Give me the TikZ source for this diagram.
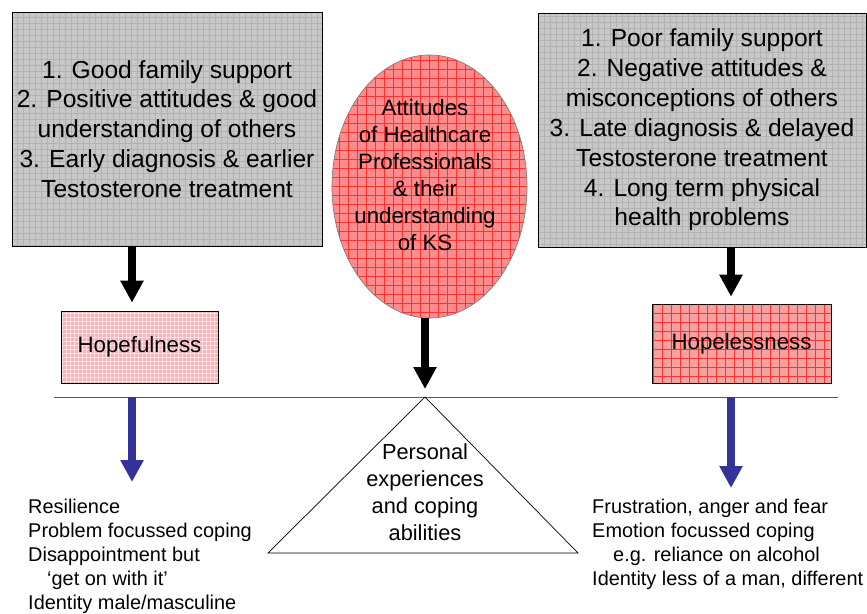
\documentclass[tikz,border=0pt]{standalone}
\usepackage{fontspec}
\setmainfont{Liberation Sans}
\usetikzlibrary{arrows.meta,shapes.geometric}
\definecolor{boxgray}{RGB}{200,200,200}
\definecolor{gridgray}{RGB}{178,178,178}
\definecolor{ovalred}{RGB}{255,140,140}
\definecolor{gridred}{RGB}{255,50,50}
\definecolor{hopepink}{RGB}{246,180,180}
\definecolor{lesspink}{RGB}{246,160,160}
\definecolor{arrowblue}{RGB}{51,51,153}
\def\gridfill#1#2{\draw[#1, line width=0.2pt, step=#2] (path picture bounding box.south west) grid (path picture bounding box.north east);}
\tikzset{
	graybox/.style={draw=black, line width=0.8pt, fill=boxgray, minimum height=7.02cm, align=center, font=\fontsize{21}{25.5}\selectfont, path picture={\gridfill{gridgray}{0.18cm}}},
	pinkbox/.style={draw=black, line width=0.6pt, align=center, font=\fontsize{19}{23}\selectfont},
	blkarrow/.style={-{Triangle[width=0.66cm,length=0.66cm]}, line width=0.24cm, black},
	bluearrow/.style={-{Triangle[width=0.66cm,length=0.66cm]}, line width=0.24cm, arrowblue},
	listtext/.style={anchor=north west, inner sep=0pt, align=left, font=\fontsize{17}{20.4}\selectfont}
}

\begin{document}
\begin{tikzpicture}[x=0.03cm, y=-0.03cm]
		%%%%% START %%%%%
		\useasboundingbox (0,0) rectangle (867,613);
		
		\node[graybox, minimum width=9.3cm] (lbox) at (167,129) {1. Good family support\\2. Positive attitudes \& good\\understanding of others\\3. Early diagnosis \& earlier\\Testosterone treatment};
		\node[graybox, minimum width=9.84cm] (rbox) at (702,130) {1. Poor family support\\2. Negative attitudes \&\\misconceptions of others\\3. Late diagnosis \& delayed\\Testosterone treatment\\4. Long term physical\\health problems};
		
		\node[ellipse, draw=gray, line width=0.6pt, fill=ovalred, inner sep=0pt, minimum width=5.85cm, minimum height=7.89cm, path picture={\gridfill{gridred}{0.27cm}}] (hcp) at (429.5,186.5) {};
		\node[align=center, font=\fontsize{19}{23}\selectfont] (hcptext) at (425,175) {Attitudes\\of Healthcare\\Professionals\\\& their\\understanding\\of KS};
		
		\node[pinkbox, fill=hopepink, minimum width=4.71cm, minimum height=2.16cm, path picture={\gridfill{white!60!hopepink}{0.12cm}}] (hope) at (139.5,347) {Hopefulness};
		\node[pinkbox, fill=lesspink, minimum width=5.37cm, minimum height=2.37cm, path picture={\gridfill{gridred}{0.27cm}}] (hopeless) at (741.5,343.5) {Hopelessness};
		
		\coordinate (bl) at (54,397);
		\coordinate (br) at (838,397);
		\coordinate (apex) at (425,397);
		\coordinate (tl) at (268,553);
		\coordinate (tr) at (578,553);
		\coordinate (gtip) at (132,482);
		\coordinate (btip) at (731,488);
		
		\draw[gray!70!black, line width=0.8pt] (bl) -- (br);
		\draw[line width=0.6pt] (apex) -- (tr) -- (tl) -- cycle;
		\node[align=center, font=\fontsize{18.6}{23}\selectfont] (pec) at (425,492.5) {Personal\\experiences\\and coping\\abilities};
		
		\draw[blkarrow] (lbox.south -| gtip) -- ([yshift=0.24cm]hope.north -| gtip);
		\draw[blkarrow] (rbox.south -| btip) -- ([yshift=0.21cm]hopeless.north -| btip);
		\draw[blkarrow] (hcp.south -| apex) -- ([yshift=0.24cm]apex);
		
		\draw[bluearrow] (bl -| gtip) -- (gtip);
		\draw[bluearrow] (br -| btip) -- (btip);
		
		\node[listtext] (goodout) at (28,499) {Resilience\\Problem focussed coping\\Disappointment but\\\hspace*{0.57cm}‘get on with it’\\Identity male/masculine};
		\node[listtext] (badout) at (592,499) {Frustration, anger and fear\\Emotion focussed coping\\\hspace*{0.63cm}e.g. reliance on alcohol\\Identity less of a man, different};
		
		%%%%% END %%%%%
	\end{tikzpicture}
\end{document}
